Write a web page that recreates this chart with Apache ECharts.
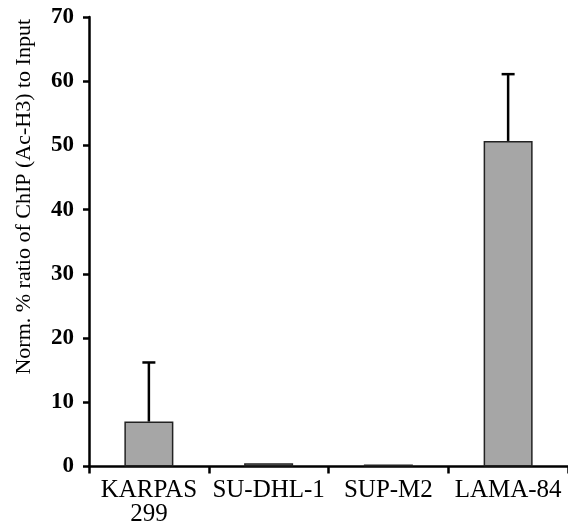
<!DOCTYPE html>
<html>
<head>
<meta charset="utf-8">
<script src="https://cdn.jsdelivr.net/npm/echarts@6/dist/echarts.min.js"></script>
<style>
  html, body { margin: 0; padding: 0; background: #fff; }
  #chart { width: 568px; height: 527px; }
</style>
</head>
<body>
<div id="chart"></div>
<script>
const categories = ['KARPAS\n299', 'SU-DHL-1', 'SUP-M2', 'LAMA-84']
const values = [7.0, 0.5, 0.3, 50.7]
const errors = [9.2, 0, 0, 10.4]
const yTicks = { min: 0, max: 70, interval: 10 }

const font = "'Liberation Serif', 'Times New Roman', serif"

// error bars: upward whisker with a cap
const renderError = (params, api) => {
  const i = api.value(0)
  const top = api.coord([i, api.value(1) + api.value(2)])
  const base = api.coord([i, api.value(1)])
  if (api.value(2) <= 0) return null
  const cap = 6.5
  const style = { stroke: '#000', lineWidth: 2.5 }
  return {
    type: 'group',
    children: [
      { type: 'line', shape: { x1: base[0], y1: base[1], x2: top[0], y2: top[1] }, style },
      { type: 'line', shape: { x1: top[0] - cap, y1: top[1], x2: top[0] + cap, y2: top[1] }, style }
    ]
  }
}

const chart = echarts.init(document.getElementById('chart'))
chart.setOption({
  animation: false,
  grid: { left: 89, right: 0, top: 17, bottom: 60 },
  xAxis: {
    type: 'category',
    data: categories,
    axisLine: { lineStyle: { color: '#000', width: 2.5 } },
    axisTick: { show: true, length: 7, lineStyle: { color: '#000', width: 2.5 } },
    axisLabel: { color: '#000', fontFamily: font, fontSize: 25, lineHeight: 24, margin: 12, interval: 0 }
  },
  yAxis: {
    type: 'value',
    min: yTicks.min,
    max: yTicks.max,
    interval: yTicks.interval,
    name: 'Norm. % ratio of ChIP (Ac-H3) to Input',
    nameLocation: 'middle',
    nameGap: 54,
    nameTextStyle: { color: '#000', fontFamily: font, fontSize: 22, padding: [0, 0, 0, 90] },
    splitLine: { show: false },
    axisLine: { show: true, lineStyle: { color: '#000', width: 2.5 } },
    axisTick: { show: true, length: 6, lineStyle: { color: '#000', width: 2.5 } },
    axisLabel: { color: '#000', fontFamily: font, fontSize: 23, fontWeight: 'bold', margin: 15 }
  },
  series: [
    {
      type: 'bar',
      data: values,
      barWidth: 49,
      itemStyle: { color: '#a6a6a6', borderColor: '#222', borderWidth: 1.5 },
      z: 2
    },
    {
      type: 'custom',
      data: values.map((v, i) => [i, v, errors[i]]),
      renderItem: renderError,
      z: 3
    }
  ]
})
</script>
</body>
</html>
